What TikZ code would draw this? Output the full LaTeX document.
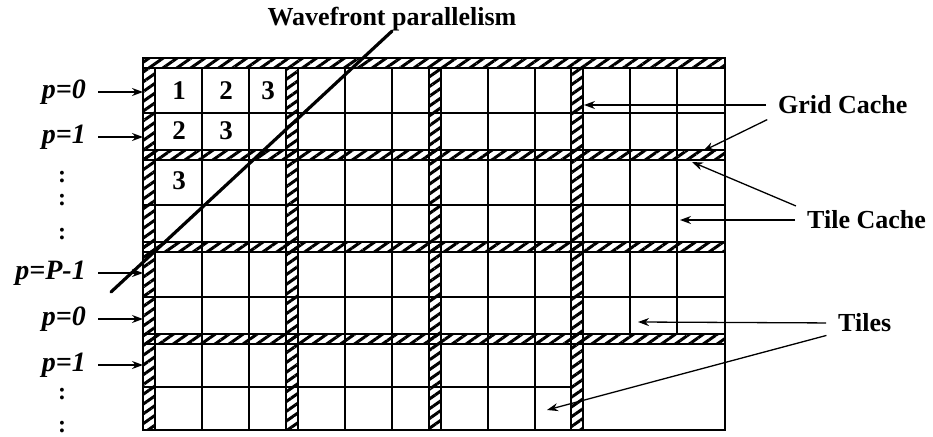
\documentclass[tikz,border=0pt]{standalone}
\usepackage{fontspec}
\setmainfont{Liberation Serif}
\usepackage{tikz}
\usetikzlibrary{arrows.meta,patterns.meta}
\tikzset{
  cachebar/.style={draw=black,line width=1.3pt,pattern={Lines[angle=35,distance=8pt,line width=3pt]}},
  tileline/.style={line width=2.3pt},
  wavefront/.style={line width=3.2pt,line cap=round},
  pointer/.style={line width=1.3pt,shorten <=12pt,-{Stealth[length=11pt,width=8pt]}},
  plabel/.style={inner sep=0pt,font=\fontsize{28}{32}\selectfont\bfseries\itshape},
  pdots/.style={inner sep=0pt,anchor=base,font=\fontsize{24}{28}\selectfont\bfseries},
  callout/.style={inner sep=0pt,font=\fontsize{26}{30}\selectfont\bfseries},
  tilenum/.style={font=\fontsize{27}{30}\selectfont\bfseries}
}
\begin{document}
\begin{tikzpicture}[x=1pt,y=-1pt]
  \useasboundingbox (0,0) rectangle (933,436);
  % cache bars
  \foreach \t in {58,150,242,334}
    \draw[cachebar] (143,\t) rectangle (725,\t+10);
  \foreach \b in {143,286,429,571}
    \draw[cachebar] (\b,68) rectangle (\b+12,430);
  % tiles
  \foreach \t in {58,150,242}
    \draw[tileline] (143,\t+55) -- (725,\t+55);
  \draw[tileline] (143,387) -- (571,387);
  \foreach \b in {143,286,429}
    \foreach \d in {59,106}
      \draw[tileline] (\b+\d,68) -- (\b+\d,430);
  \foreach \d in {59,106}
    \draw[tileline] (571+\d,68) -- (571+\d,334);
  \draw[tileline] (143,58) rectangle (725,430);
  \node[tilenum] (t11) at (179,91) {1};
  \node[tilenum] (t12) at (226,91) {2};
  \node[tilenum] (t13) at (268,91) {3};
  \node[tilenum] (t21) at (179,131) {2};
  \node[tilenum] (t22) at (226,131) {3};
  \node[tilenum] (t31) at (179,181) {3};

  % wavefront
  \node[callout] (wave) at (392,19) {Wavefront parallelism};
  \coordinate (waveend) at (111,292);
  \draw[wavefront] (wave.south) -- (waveend);

  % processors
  \node[plabel,anchor=east] (pa0) at (86,92) {p=0};
  \node[plabel,anchor=east] (pa1) at (86,137) {p=1};
  \node[pdots] (dots1) at (62,182) {:};
  \node[pdots] (dots2) at (62,205) {:};
  \node[pdots] (dots3) at (62,239) {:};
  \node[plabel,anchor=east] (paP) at (86,273) {p=P-1};
  \node[plabel,anchor=east] (pb0) at (86,319) {p=0};
  \node[plabel,anchor=east] (pb1) at (86,365) {p=1};
  \node[pdots] (dots4) at (62,399) {:};
  \node[pdots] (dots5) at (62,432) {:};
  \coordinate (ra0) at (143,92);
  \coordinate (ra1) at (143,137);
  \coordinate (raP) at (143,273);
  \coordinate (rb0) at (143,319);
  \coordinate (rb1) at (143,365);
  \draw[pointer] (pa0.east) -- (ra0);
  \draw[pointer] (pa1.east) -- (ra1);
  \draw[pointer] (paP.east) -- (raP);
  \draw[pointer] (pb0.east) -- (rb0);
  \draw[pointer] (pb1.east) -- (rb1);

  % labels
  \node[callout,anchor=west] (grid) at (778,105) {Grid Cache};
  \node[callout,anchor=west] (tilecache) at (807,220) {Tile Cache};
  \node[callout,anchor=west] (tiles) at (838,323) {Tiles};
  \coordinate (gridbar) at (584,105);
  \coordinate (gridrow) at (703,151);
  \coordinate (tilerow) at (692,162);
  \coordinate (tilecell) at (680,220);
  \coordinate (tileA) at (638,322);
  \coordinate (tileB) at (547,410);
  \draw[pointer] (grid.west) -- (gridbar);
  \draw[pointer] (grid.south west) -- (gridrow);
  \draw[pointer] (tilecache.north west) -- (tilerow);
  \draw[pointer] (tilecache.west) -- (tilecell);
  \draw[pointer] (tiles.west) -- (tileA);
  \draw[pointer] (tiles.south west) -- (tileB);
\end{tikzpicture}
\end{document}
